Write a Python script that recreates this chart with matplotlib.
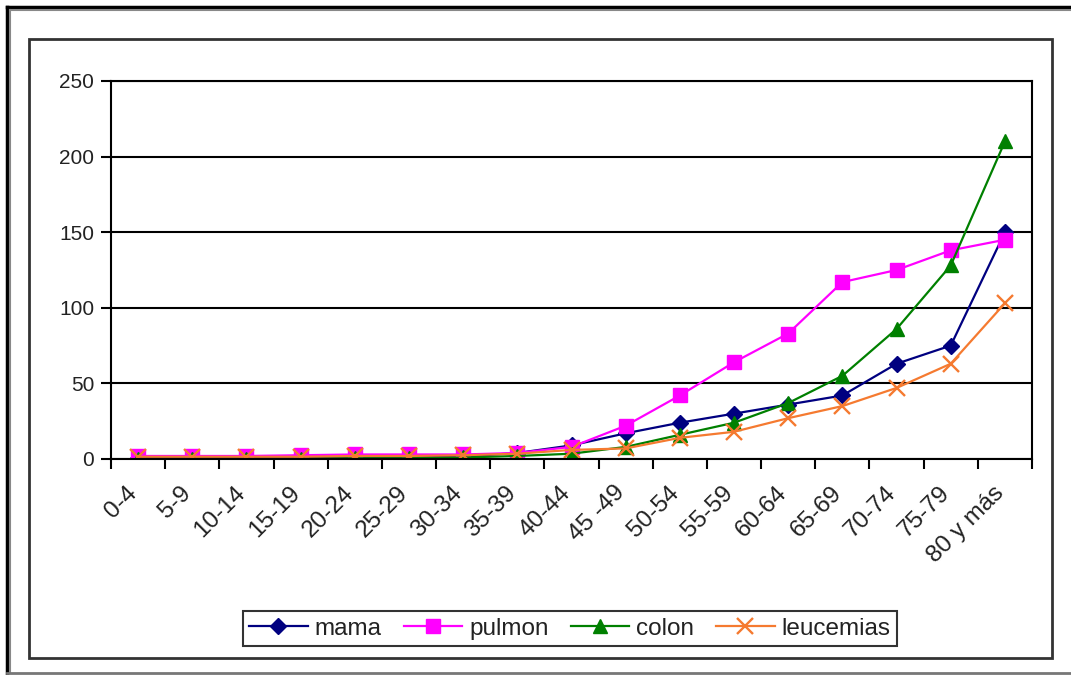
import matplotlib.pyplot as plt
import matplotlib.transforms as mtransforms
from matplotlib.lines import Line2D
from matplotlib.patches import Rectangle

plt.rcParams['font.family'] = ['Liberation Sans', 'DejaVu Sans']

edades = ['0-4', '5-9', '10-14', '15-19', '20-24', '25-29', '30-34', '35-39', '40-44',
          '45 -49', '50-54', '55-59', '60-64', '65-69', '70-74', '75-79', '80 y más']
mama = [0.5, 0.5, 0.8, 0.8, 1, 1, 1.5, 4, 9, 17, 24, 30, 36, 42, 63, 75, 150]
pulmon = [2, 2, 2, 2.5, 3, 3, 3, 4, 8, 22, 42, 64, 83, 117, 125, 138, 145]
colon = [0.3, 0.3, 0.3, 0.3, 0.5, 0.5, 1, 2, 3.5, 8, 16, 24, 37, 55, 86, 128, 210]
leucemias = [1.5, 1.5, 1.5, 1.5, 2, 2, 2.5, 3.5, 6, 7, 14, 18, 27, 35, 47, 63, 103]

W, H = 1071, 675
fig = plt.figure(figsize=(W / 100, H / 100), dpi=100)

# marco exterior y borde del area del grafico
fig.add_artist(Line2D([7 / W, 1], [1 - 7 / H, 1 - 7 / H], color='black', lw=2.5))
fig.add_artist(Line2D([7 / W, 7 / W], [1 - 7 / H, 1 - 673 / H], color='black', lw=2.5))
fig.add_artist(Line2D([9.5 / W, 1], [1 - 9.5 / H, 1 - 9.5 / H], color='#888888', lw=1.5))
fig.add_artist(Line2D([9.5 / W, 9.5 / W], [1 - 9.5 / H, 1 - 673 / H], color='#888888', lw=1.5))
fig.add_artist(Line2D([7 / W, 1], [1 - 673 / H, 1 - 673 / H], color='#777777', lw=2))
fig.add_artist(Rectangle((29 / W, 1 - 658 / H), 1023 / W, 619 / H, transform=fig.transFigure,
                         fill=False, edgecolor='#333333', lw=2))

ax = fig.add_axes([111 / W, 1 - 459 / H, 921 / W, 378 / H])
x = list(range(len(edades)))

ax.plot(x, mama, color='#000080', marker='D', ms=8, lw=1.6, label='mama')
ax.plot(x, pulmon, color='#FF00FF', marker='s', ms=10, lw=1.6, label='pulmon')
ax.plot(x, colon, color='#008000', marker='^', ms=10, lw=1.6, label='colon')
ax.plot(x, leucemias, color='#F57A30', marker='x', ms=11, mew=1.7, lw=1.6, label='leucemias')

ax.set_xlim(-0.5, len(edades) - 0.5)
ax.set_ylim(0, 250)
ax.set_yticks([0, 50, 100, 150, 200, 250])
ax.yaxis.grid(True, color='black', lw=1.5)
ax.set_axisbelow(True)
for s in ax.spines.values():
    s.set_linewidth(1.5)
    s.set_color('black')
ax.tick_params(axis='y', length=7, width=1.5, labelsize=15, pad=5, labelcolor='#222222')

ax.set_xticks(x)
ax.set_xticklabels(edades, rotation=45, ha='right', va='top', rotation_mode='anchor',
                   fontsize=17.5, color='#222222')
ax.tick_params(axis='x', which='major', length=0, pad=12)
ax.set_xticks([i - 0.5 for i in range(len(edades) + 1)], minor=True)
ax.tick_params(axis='x', which='minor', length=7, width=1.5)

# desplazar las etiquetas giradas un poco a la izquierda y hacia abajo
desplazamiento = mtransforms.ScaledTranslation(-0.12, -0.06, fig.dpi_scale_trans)
for lbl in ax.get_xticklabels():
    lbl.set_transform(lbl.get_transform() + desplazamiento)

leg = fig.legend(loc='center', bbox_to_anchor=(570 / W, 1 - 628.5 / H), ncol=4, fontsize=17.5,
                 frameon=True, fancybox=False, edgecolor='black', handlelength=2.4,
                 handletextpad=0.3, columnspacing=0.9, borderpad=0.25, labelcolor='#222222')
leg.get_frame().set_linewidth(1.5)

fig.savefig('out.png', dpi=100)
